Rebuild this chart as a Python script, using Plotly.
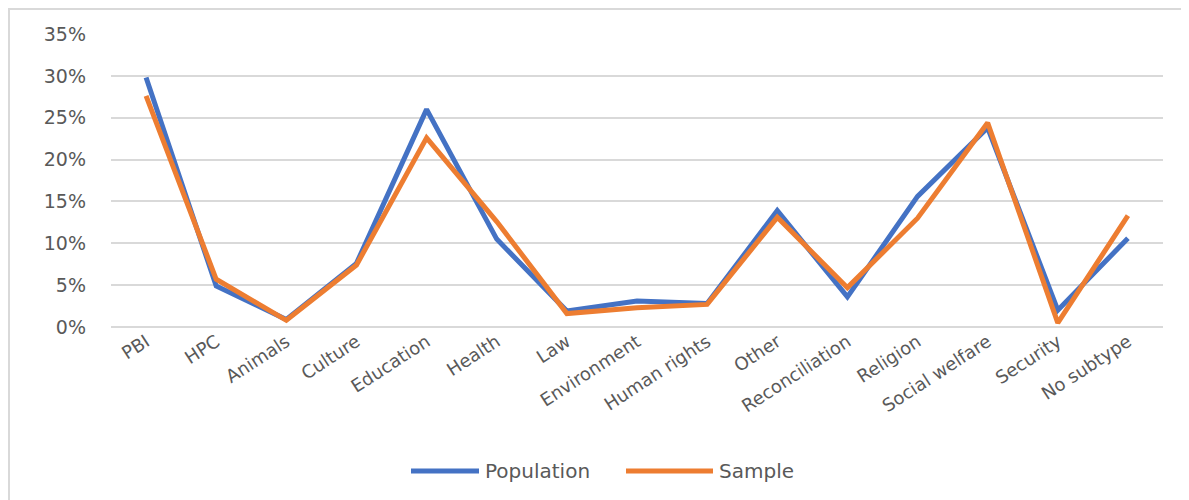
import plotly.graph_objects as go

categories = ["PBI", "HPC", "Animals", "Culture", "Education", "Health", "Law",
              "Environment", "Human rights", "Other", "Reconciliation", "Religion",
              "Social welfare", "Security", "No subtype"]
population = [0.298, 0.049, 0.009, 0.076, 0.260, 0.105, 0.019,
              0.031, 0.028, 0.139, 0.036, 0.156, 0.238, 0.020, 0.106]
sample = [0.276, 0.057, 0.008, 0.074, 0.226, 0.126, 0.016,
          0.023, 0.027, 0.131, 0.047, 0.130, 0.244, 0.005, 0.133]
series_names = ["Population", "Sample"]
series_colors = ["#4472C4", "#ED7D31"]

FONT = "DejaVu Sans"
GRAY = "#595959"
GRID = "#D9D9D9"

fig = go.Figure()
for name, vals, col in zip(series_names, [population, sample], series_colors):
    fig.add_trace(go.Scatter(x=categories, y=vals, mode="lines", name=name,
                             line=dict(color=col, width=5), showlegend=False))

# page offset of the rendered figure inside the browser window
OFF = 7
W, H = 1189, 500
# target plot area in window pixels: x 110..1162, y 33..326
L, T = 110 - OFF, 33 - OFF
R = W - (1162 - OFF)
B = H - (326 - OFF)
pw, ph = W - L - R, H - T - B

def px(x):
    return (x - OFF - L) / pw

def py(y):
    return (H - B - (y - OFF)) / ph

shapes = [dict(type="rect", xref="paper", yref="paper",
               x0=px(8), x1=px(1220), y0=py(530), y1=py(8),
               line=dict(color=GRID, width=2), fillcolor="rgba(0,0,0,0)", layer="below")]
annotations = []
# legend (drawn manually so the line keys are as long as in the reference)
legend_items = [(410, 478, 482), (625, 712, 716)]
for (x0, x1, tx), name, col in zip(legend_items, series_names, series_colors):
    shapes.append(dict(type="line", xref="paper", yref="paper",
                       x0=px(x0), x1=px(x1), y0=py(470), y1=py(470),
                       line=dict(color=col, width=5)))
    annotations.append(dict(xref="paper", yref="paper", x=px(tx), y=py(470),
                            xanchor="left", yanchor="middle", text=name, showarrow=False,
                            font=dict(family=FONT, size=20, color=GRAY)))

fig.update_layout(
    width=W, height=H,
    margin=dict(l=L, r=R, t=T, b=B),
    paper_bgcolor="white", plot_bgcolor="white",
    font=dict(family=FONT, size=18, color=GRAY),
    showlegend=False,
    xaxis=dict(range=[-0.5, 14.5], tickangle=-33, showgrid=False, showline=False,
               zeroline=False, ticks="", automargin=False,
               tickfont=dict(family=FONT, size=18, color=GRAY)),
    yaxis=dict(range=[0, 0.35], dtick=0.05, tickformat=".0%", showgrid=True,
               gridcolor=GRID, gridwidth=1.5, zeroline=True, zerolinecolor=GRID,
               zerolinewidth=1.5, showline=False, ticks="", ticklabelstandoff=24,
               automargin=False,
               tickfont=dict(family=FONT, size=19, color=GRAY)),
    shapes=shapes,
    annotations=annotations,
)

fig.write_html("out.html")
